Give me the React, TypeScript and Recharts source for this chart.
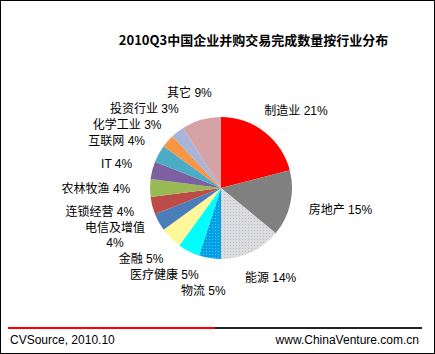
import { PieChart, Pie, Cell } from 'recharts'

const industries = [
    '制造业', '房地产', '能源', '物流', '医疗健康', '金融', '电信及增值',
    '连锁经营', '农林牧渔', 'IT', '互联网', '化学工业', '投资行业', '其它'
]
const shares = [21, 15, 14, 5, 5, 5, 4, 4, 4, 4, 4, 3, 3, 9]
const sliceColors = [
    '#ff0000', '#808080', 'url(#dotGray)', 'url(#dotBlue)', '#00ffff', '#fff799', '#4a7ebb',
    '#be4b48', '#98b954', '#7d60a0', '#4bacc6', '#f79646', '#a8b5d8', 'url(#dotPink)'
]

const chartData = industries.map((name, i) => ({ name, value: shares[i] }))

const FONT = '"Liberation Sans", Arial, "Noto Sans CJK SC", sans-serif'
const RAD = Math.PI / 180
const PIE_R = 71
const LINE_H = 15

// rough text width: CJK glyphs ~12px, latin ~6.7px
function textWidth(s: string) {
    let w = 0
    for (const ch of s) w += /[\u4e00-\u9fff]/.test(ch) ? 12 : 6.7
    return w
}

// place labels just outside the pie, then nudge apart any that collide
function layoutLabels() {
    const total = shares.reduce((a, b) => a + b, 0)
    let cum = 0
    const boxes = shares.map((v, i) => {
        const mid = 90 - (360 * (cum + v / 2)) / total
        cum += v
        const ux = Math.cos(mid * RAD)
        const uy = -Math.sin(mid * RAD)
        const pct = `${v}%`
        const lines = industries[i] === '电信及增值' ? [industries[i], pct] : [`${industries[i]} ${pct}`]
        const w = Math.max(...lines.map(textWidth))
        const h = lines.length * LINE_H
        const r = PIE_R + 20
        return { x: r * ux + (ux * w) / 2, y: r * uy + (uy * h) / 2, w, h, lines }
    })
    for (let it = 0; it < 60; it++) {
        for (let i = 0; i < boxes.length; i++) {
            for (let j = i + 1; j < boxes.length; j++) {
                const a = boxes[i]
                const b = boxes[j]
                const ox = (a.w + b.w) / 2 + 3 - Math.abs(a.x - b.x)
                const oy = (a.h + b.h) / 2 + 1 - Math.abs(a.y - b.y)
                if (ox <= 0 || oy <= 0) continue
                if (oy < ox) {
                    const s = b.y >= a.y ? 1 : -1
                    a.y -= (s * oy) / 2
                    b.y += (s * oy) / 2
                } else {
                    const s = b.x >= a.x ? 1 : -1
                    a.x -= (s * ox) / 2
                    b.x += (s * ox) / 2
                }
            }
        }
    }
    return boxes
}

const labelBoxes = layoutLabels()

function renderLabel(props: any) {
    const { cx, cy, index } = props
    const b = labelBoxes[index]
    const x = cx + b.x
    const top = cy + b.y - b.h / 2
    return (
        <text x={x} y={top + 12} textAnchor="middle" fontSize={12} fontFamily={FONT} fill="#000">
            {b.lines.map((l, i) => (
                <tspan key={i} x={x} dy={i === 0 ? 0 : LINE_H}>{l}</tspan>
            ))}
        </text>
    )
}

function Dots({ id, bg, dot }: { id: string; bg: string; dot: string }) {
    return (
        <pattern id={id} width="3" height="3" patternUnits="userSpaceOnUse">
            <rect width="3" height="3" fill={bg} />
            <rect x="1" y="1" width="1" height="1" fill={dot} />
        </pattern>
    )
}

export default function App() {
    return (
        <div
            style={{
                position: 'absolute',
                left: 0,
                top: 0,
                width: 435,
                height: 354,
                boxSizing: 'border-box',
                border: '1px solid #000',
                background: '#fff',
                fontFamily: FONT
            }}
        >
            <div
                style={{
                    position: 'absolute',
                    left: 0,
                    width: 505,
                    top: 30,
                    textAlign: 'center',
                    fontSize: 13,
                    fontWeight: 'bold',
                    fontFamily: '"Noto Sans CJK SC", sans-serif',
                    lineHeight: '17px'
                }}
            >
                2010Q3中国企业并购交易完成数量按行业分布
            </div>
            <div style={{ position: 'absolute', left: 0, top: 0 }}>
                <PieChart width={433} height={310}>
                    <defs>
                        <Dots id="dotGray" bg="#dcdcdc" dot="#b8b8d8" />
                        <Dots id="dotBlue" bg="#00a0e8" dot="#5cc8f8" />
                        <Dots id="dotPink" bg="#d9a2a2" dot="#b8a8c0" />
                    </defs>
                    <Pie
                        data={chartData}
                        dataKey="value"
                        nameKey="name"
                        cx={215}
                        cy={182}
                        outerRadius={PIE_R}
                        startAngle={90}
                        endAngle={-270}
                        stroke="none"
                        label={renderLabel}
                        labelLine={false}
                        isAnimationActive={false}
                    >
                        {chartData.map((d, i) => (
                            <Cell key={d.name} fill={sliceColors[i]} />
                        ))}
                    </Pie>
                </PieChart>
            </div>
            <div style={{ position: 'absolute', left: 7, top: 326, width: 207, height: 2, background: '#ff0000' }} />
            <div style={{ position: 'absolute', left: 214, top: 326, width: 207, height: 2, background: '#222' }} />
            <div style={{ position: 'absolute', left: 9, top: 331, fontSize: 12, lineHeight: '16px' }}>
                CVSource, 2010.10
            </div>
            <div style={{ position: 'absolute', right: 15, top: 331, fontSize: 12, lineHeight: '16px' }}>
                www.ChinaVenture.com.cn
            </div>
        </div>
    )
}
